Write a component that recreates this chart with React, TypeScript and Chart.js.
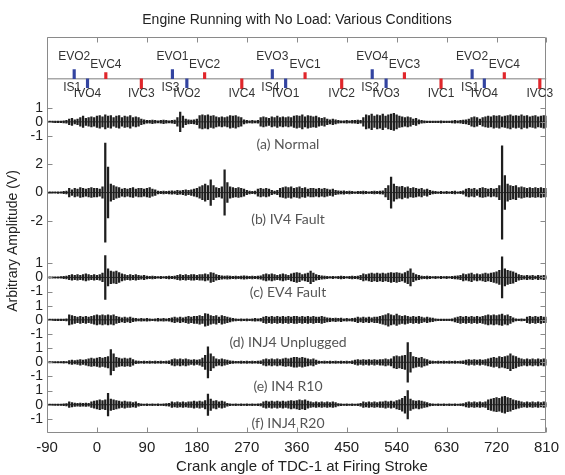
import React, { useEffect, useRef } from "react";
import { Chart, registerables } from "chart.js";

Chart.register(...registerables);

// ---------- data ----------
const TITLE = "Engine Running with No Load: Various Conditions";
const X_TITLE = "Crank angle of TDC-1 at Firing Stroke";
const Y_TITLE = "Arbitrary Amplitude (V)";

const ANGLE_START = -90;
const ANGLE_STEP = 5;
const X_MIN = -90;
const X_MAX = 810;
const X_TICKS = [-90, 0, 90, 180, 270, 360, 450, 540, 630, 720, 810];

const Y_TICK_VALUES = [-1, 0, 1, 2, 3, 4, 5, 6, 7, 8, 9, 10, 13, 15, 17, 19, 20, 21];
const Y_TICK_LABELS = ["-1", "0", "1", "-1", "0", "1", "-1", "0", "1", "-1", "0", "1", "-2", "0", "2", "-1", "0", "1"];

const TRACE_NAMES = ["(a) Normal", "(b) IV4 Fault", "(c) EV4 Fault", "(d) INJ4 Unplugged", "(e) IN4 R10", "(f) INJ4 R20"];
const TRACE_BASE = [20, 15, 9, 6, 3, 0];

// amplitude envelopes (V), one value every 5 deg from -90 to 810
const AMP_A = [
  0.05, 0.05, 0.05, 0.05, 0.06, 0.05, 0.08, 0.1, 0.2, 0.25, 0.15, 0.2, 0.3, 0.4, 0.25, 0.3, 0.35, 0.3,
  0.4, 0.45, 0.35, 0.5, 0.4, 0.45, 0.3, 0.4, 0.45, 0.3, 0.4, 0.35, 0.45, 0.3, 0.35, 0.3, 0.2, 0.15,
  0.1, 0.1, 0.12, 0.1, 0.08, 0.1, 0.12, 0.1, 0.08, 0.1, 0.12, 0.3, 0.7, 0.4, 0.2, 0.15, 0.12, 0.15,
  0.2, 0.45, 0.5, 0.45, 0.5, 0.4, 0.45, 0.35, 0.3, 0.35, 0.3, 0.35, 0.45, 0.4, 0.45, 0.35, 0.3, 0.15,
  0.1, 0.08, 0.1, 0.08, 0.1, 0.3, 0.35, 0.3, 0.25, 0.35, 0.3, 0.4, 0.3, 0.35, 0.3, 0.35, 0.3, 0.4,
  0.45, 0.4, 0.5, 0.35, 0.45, 0.4, 0.35, 0.4, 0.3, 0.25, 0.3, 0.2, 0.15, 0.2, 0.15, 0.1, 0.08, 0.08,
  0.1, 0.08, 0.1, 0.1, 0.12, 0.1, 0.3, 0.5, 0.45, 0.55, 0.4, 0.5, 0.45, 0.55, 0.4, 0.5, 0.55, 0.6,
  0.5, 0.4, 0.35, 0.3, 0.35, 0.3, 0.2, 0.25, 0.15, 0.1, 0.08, 0.06, 0.05, 0.06, 0.05, 0.06, 0.08, 0.06,
  0.05, 0.06, 0.08, 0.1, 0.08, 0.1, 0.12, 0.15, 0.2, 0.3, 0.35, 0.3, 0.2, 0.3, 0.35, 0.4, 0.35, 0.45,
  0.4, 0.45, 0.35, 0.4, 0.45, 0.5, 0.4, 0.45, 0.4, 0.5, 0.4, 0.45, 0.35, 0.4, 0.45, 0.35, 0.4, 0.45,
  0.4,
];
const AMP_B = [
  0.05, 0.05, 0.05, 0.05, 0.06, 0.05, 0.08, 0.1, 0.3, 0.2, 0.3, 0.25, 0.35, 0.3, 0.25, 0.3, 0.35, 0.3,
  0.3, 0.25, 0.4, 3.5, 1.8, 0.6, 0.5, 0.4, 0.35, 0.25, 0.3, 0.25, 0.3, 0.35, 0.25, 0.3, 0.3, 0.25,
  0.3, 0.35, 0.25, 0.2, 0.1, 0.08, 0.1, 0.08, 0.1, 0.12, 0.1, 0.15, 0.12, 0.15, 0.2, 0.15, 0.2, 0.25,
  0.3, 0.4, 0.5, 0.6, 0.5, 0.9, 0.5, 0.35, 0.3, 0.4, 1.6, 0.7, 0.4, 0.35, 0.3, 0.35, 0.3, 0.25,
  0.15, 0.1, 0.08, 0.1, 0.25, 0.3, 0.25, 0.3, 0.25, 0.15, 0.1, 0.15, 0.3, 0.35, 0.4, 0.35, 0.4, 0.3,
  0.35, 0.4, 0.3, 0.35, 0.25, 0.3, 0.3, 0.25, 0.3, 0.25, 0.3, 0.25, 0.2, 0.25, 0.15, 0.12, 0.1, 0.12,
  0.08, 0.1, 0.08, 0.06, 0.08, 0.08, 0.1, 0.08, 0.06, 0.08, 0.1, 0.08, 0.1, 0.12, 0.3, 0.5, 1.1, 0.6,
  0.45, 0.4, 0.45, 0.35, 0.4, 0.3, 0.35, 0.3, 0.25, 0.3, 0.2, 0.25, 0.15, 0.1, 0.08, 0.06, 0.08, 0.06,
  0.08, 0.06, 0.08, 0.1, 0.06, 0.08, 0.12, 0.25, 0.3, 0.25, 0.3, 0.2, 0.3, 0.35, 0.3, 0.25, 0.3, 0.25,
  0.3, 0.5, 3.3, 1.2, 0.6, 0.5, 0.45, 0.5, 0.35, 0.4, 0.35, 0.3, 0.35, 0.3, 0.35, 0.3, 0.35, 0.3,
  0.3,
];
const AMP_C = [
  0.05, 0.05, 0.05, 0.05, 0.05, 0.06, 0.08, 0.1, 0.15, 0.2, 0.15, 0.2, 0.15, 0.2, 0.25, 0.2, 0.15, 0.2,
  0.15, 0.2, 0.3, 1.55, 0.6, 0.45, 0.4, 0.45, 0.35, 0.25, 0.2, 0.15, 0.2, 0.15, 0.2, 0.15, 0.12, 0.15,
  0.1, 0.08, 0.1, 0.08, 0.06, 0.08, 0.06, 0.08, 0.1, 0.08, 0.1, 0.15, 0.2, 0.15, 0.2, 0.15, 0.2, 0.2,
  0.15, 0.2, 0.2, 0.25, 0.2, 0.35, 0.3, 0.2, 0.15, 0.12, 0.1, 0.12, 0.1, 0.08, 0.1, 0.08, 0.1, 0.12,
  0.1, 0.08, 0.1, 0.08, 0.1, 0.12, 0.2, 0.25, 0.2, 0.25, 0.2, 0.15, 0.2, 0.25, 0.2, 0.15, 0.25, 0.3,
  0.35, 0.3, 0.2, 0.25, 0.3, 0.45, 0.3, 0.2, 0.15, 0.12, 0.1, 0.08, 0.06, 0.08, 0.06, 0.08, 0.1, 0.08,
  0.06, 0.08, 0.1, 0.08, 0.1, 0.15, 0.25, 0.2, 0.25, 0.3, 0.25, 0.3, 0.25, 0.3, 0.25, 0.3, 0.35, 0.3,
  0.35, 0.3, 0.25, 0.35, 0.45, 0.6, 0.3, 0.2, 0.15, 0.1, 0.08, 0.1, 0.08, 0.06, 0.08, 0.06, 0.08, 0.06,
  0.08, 0.06, 0.08, 0.1, 0.12, 0.15, 0.25, 0.2, 0.25, 0.3, 0.2, 0.25, 0.2, 0.25, 0.3, 0.25, 0.3, 0.35,
  0.4, 0.5, 1.45, 0.6, 0.5, 0.45, 0.4, 0.3, 0.2, 0.15, 0.12, 0.15, 0.12, 0.15, 0.1, 0.15, 0.12, 0.15,
  0.12,
];
const AMP_D = [
  0.05, 0.05, 0.05, 0.05, 0.05, 0.05, 0.06, 0.08, 0.35, 0.3, 0.25, 0.2, 0.25, 0.2, 0.25, 0.2, 0.25, 0.3,
  0.35, 0.3, 0.35, 0.3, 0.35, 0.3, 0.35, 0.25, 0.2, 0.15, 0.2, 0.15, 0.2, 0.12, 0.1, 0.08, 0.1, 0.08,
  0.1, 0.08, 0.06, 0.08, 0.1, 0.08, 0.1, 0.08, 0.1, 0.15, 0.2, 0.15, 0.2, 0.15, 0.2, 0.25, 0.2, 0.25,
  0.25, 0.3, 0.25, 0.45, 0.4, 0.3, 0.25, 0.3, 0.2, 0.3, 0.25, 0.2, 0.15, 0.1, 0.08, 0.06, 0.08, 0.06,
  0.08, 0.06, 0.08, 0.1, 0.08, 0.1, 0.2, 0.25, 0.2, 0.25, 0.2, 0.25, 0.2, 0.25, 0.2, 0.25, 0.2, 0.25,
  0.25, 0.2, 0.25, 0.2, 0.25, 0.2, 0.25, 0.2, 0.2, 0.25, 0.2, 0.15, 0.12, 0.1, 0.12, 0.1, 0.12, 0.08,
  0.1, 0.08, 0.1, 0.12, 0.2, 0.15, 0.2, 0.15, 0.2, 0.15, 0.2, 0.2, 0.25, 0.3, 0.35, 0.45, 0.35, 0.3,
  0.4, 0.3, 0.25, 0.3, 0.25, 0.2, 0.25, 0.2, 0.25, 0.2, 0.15, 0.2, 0.15, 0.12, 0.08, 0.06, 0.05, 0.06,
  0.05, 0.06, 0.08, 0.15, 0.2, 0.25, 0.2, 0.25, 0.2, 0.25, 0.2, 0.25, 0.2, 0.25, 0.3, 0.35, 0.3, 0.35,
  0.3, 0.35, 0.4, 0.3, 0.35, 0.25, 0.15, 0.08, 0.06, 0.08, 0.06, 0.2, 0.25, 0.2, 0.25, 0.2, 0.25, 0.2,
  0.2,
];
const AMP_E = [
  0.05, 0.05, 0.05, 0.05, 0.05, 0.05, 0.06, 0.05, 0.12, 0.15, 0.12, 0.15, 0.2, 0.15, 0.2, 0.25, 0.3, 0.25,
  0.3, 0.35, 0.3, 0.35, 0.4, 0.9, 0.6, 0.35, 0.3, 0.25, 0.3, 0.25, 0.3, 0.2, 0.1, 0.08, 0.06, 0.08,
  0.06, 0.08, 0.06, 0.08, 0.06, 0.08, 0.06, 0.08, 0.1, 0.2, 0.25, 0.2, 0.25, 0.2, 0.25, 0.2, 0.15, 0.2,
  0.15, 0.2, 0.3, 0.5, 1.1, 0.6, 0.4, 0.25, 0.2, 0.25, 0.2, 0.15, 0.1, 0.08, 0.06, 0.06, 0.08, 0.06,
  0.08, 0.06, 0.08, 0.06, 0.08, 0.1, 0.2, 0.25, 0.2, 0.25, 0.2, 0.25, 0.2, 0.25, 0.3, 0.25, 0.3, 0.35,
  0.35, 0.3, 0.35, 0.3, 0.25, 0.2, 0.25, 0.15, 0.08, 0.06, 0.08, 0.06, 0.08, 0.06, 0.08, 0.06, 0.08, 0.06,
  0.08, 0.06, 0.1, 0.15, 0.2, 0.15, 0.2, 0.15, 0.2, 0.15, 0.2, 0.15, 0.2, 0.2, 0.25, 0.2, 0.25, 0.4,
  0.45, 0.4, 0.45, 0.5, 1.4, 0.7, 0.4, 0.35, 0.3, 0.35, 0.25, 0.2, 0.1, 0.08, 0.06, 0.08, 0.06, 0.08,
  0.06, 0.08, 0.06, 0.08, 0.06, 0.08, 0.1, 0.15, 0.2, 0.15, 0.2, 0.15, 0.2, 0.15, 0.2, 0.25, 0.3, 0.35,
  0.3, 0.4, 0.35, 0.4, 0.45, 0.6, 0.45, 0.4, 0.3, 0.25, 0.2, 0.25, 0.2, 0.25, 0.2, 0.25, 0.2, 0.25,
  0.2,
];
const AMP_F = [
  0.05, 0.05, 0.05, 0.05, 0.05, 0.05, 0.06, 0.08, 0.2, 0.15, 0.12, 0.1, 0.12, 0.1, 0.12, 0.1, 0.2, 0.25,
  0.3, 0.35, 0.3, 0.35, 0.8, 0.4, 0.35, 0.3, 0.25, 0.2, 0.25, 0.2, 0.2, 0.15, 0.2, 0.1, 0.06, 0.05,
  0.06, 0.05, 0.06, 0.05, 0.06, 0.05, 0.06, 0.08, 0.1, 0.2, 0.15, 0.2, 0.15, 0.2, 0.15, 0.2, 0.2, 0.25,
  0.2, 0.25, 0.2, 0.3, 0.75, 0.4, 0.25, 0.3, 0.2, 0.25, 0.2, 0.1, 0.06, 0.05, 0.06, 0.05, 0.06, 0.05,
  0.06, 0.05, 0.06, 0.05, 0.06, 0.08, 0.2, 0.25, 0.2, 0.25, 0.2, 0.25, 0.2, 0.25, 0.2, 0.25, 0.3, 0.25,
  0.3, 0.35, 0.3, 0.35, 0.25, 0.2, 0.15, 0.2, 0.15, 0.2, 0.15, 0.2, 0.15, 0.2, 0.15, 0.08, 0.06, 0.05,
  0.06, 0.05, 0.06, 0.05, 0.06, 0.1, 0.2, 0.15, 0.2, 0.15, 0.2, 0.15, 0.2, 0.2, 0.25, 0.2, 0.25, 0.2,
  0.3, 0.35, 0.45, 0.6, 1.0, 0.4, 0.3, 0.25, 0.3, 0.25, 0.2, 0.15, 0.08, 0.06, 0.05, 0.06, 0.05, 0.06,
  0.05, 0.06, 0.05, 0.06, 0.05, 0.06, 0.08, 0.15, 0.2, 0.15, 0.2, 0.15, 0.2, 0.15, 0.2, 0.35, 0.4, 0.45,
  0.5, 0.45, 0.55, 0.6, 0.5, 0.45, 0.35, 0.3, 0.25, 0.2, 0.15, 0.2, 0.15, 0.2, 0.15, 0.2, 0.15, 0.2,
  0.15,
];
const TRACE_AMPS = [AMP_A, AMP_B, AMP_C, AMP_D, AMP_E, AMP_F];

// valve events (crank angle, deg)
const EVENT_LEVEL = 23.05;
const EVO_ANGLES = [-41, 136, 316, 496, 676];
const EVO_LABELS = ["EVO2", "EVO1", "EVO3", "EVO4", "EVO2"];
const IS_LABELS = ["IS1", "IS3", "IS4", "IS2", "IS1"];
const IVO_ANGLES = [-17, 162, 340, 521, 698];
const IVO_LABELS = ["IVO4", "IVO2", "IVO1", "IVO3", "IVO4"];
const EVC_ANGLES = [16, 194, 375, 554, 734];
const EVC_LABELS = ["EVC4", "EVC2", "EVC1", "EVC3", "EVC4"];
const IVC_ANGLES = [80, 261, 441, 620, 798];
const IVC_LABELS = ["IVC3", "IVC4", "IVC2", "IVC1", "IVC3"];

// ---------- styling ----------
const SANS = '"Liberation Sans", Arial, sans-serif';
const LABEL_FONT = 'Lato, "Open Sans", sans-serif';
const AXIS_COLOR = "#8a8a8a";
const BLUE = "#3344a0";
const RED = "#e0262b";
const TRACE_LABEL_DY = [23, 26.5, 15.5, 23, 24.5, 18.5];

const overlayPlugin = {
  id: "overlay",
  afterDraw(chart: any) {
    const { ctx, chartArea: ca } = chart;
    const xs = chart.scales.x;
    const ys = chart.scales.y;
    ctx.save();

    // frame
    ctx.strokeStyle = AXIS_COLOR;
    ctx.lineWidth = 1;
    const L = Math.round(ca.left) + 0.5;
    const R = Math.round(ca.right) - 0.5;
    const T = Math.round(ca.top) + 0.5;
    const B = Math.round(ca.bottom) - 0.5;
    ctx.beginPath();
    ctx.rect(L, T, R - L, B - T);
    ctx.stroke();

    // inward ticks
    ctx.beginPath();
    X_TICKS.forEach((v) => {
      const px = Math.round(xs.getPixelForValue(v)) + 0.5;
      ctx.moveTo(px, B);
      ctx.lineTo(px, B - 5);
      ctx.moveTo(px, T);
      ctx.lineTo(px, T + 5);
    });
    Y_TICK_VALUES.forEach((v) => {
      const py = Math.round(ys.getPixelForValue(v)) + 0.5;
      ctx.moveTo(L, py);
      ctx.lineTo(L + 5, py);
      ctx.moveTo(R, py);
      ctx.lineTo(R - 5, py);
    });
    ctx.stroke();

    // titles
    ctx.fillStyle = "#222";
    ctx.textAlign = "center";
    ctx.textBaseline = "middle";
    ctx.font = "14px " + SANS;
    ctx.fillText(TITLE, 297, 20);
    ctx.font = "15px " + SANS;
    ctx.fillText(X_TITLE, 302, 467);
    ctx.save();
    ctx.translate(13, 241);
    ctx.rotate(-Math.PI / 2);
    ctx.font = "14px " + SANS;
    ctx.fillText(Y_TITLE, 0, 0);
    ctx.restore();

    // valve event labels
    const ey = ys.getPixelForValue(EVENT_LEVEL);
    ctx.font = "12px " + SANS;
    ctx.fillStyle = "#333";
    EVO_ANGLES.forEach((a, i) => {
      const px = xs.getPixelForValue(a);
      ctx.fillText(EVO_LABELS[i], px, ey - 22);
      ctx.fillText(IS_LABELS[i], px - 2, ey + 9);
    });
    EVC_ANGLES.forEach((a, i) => {
      ctx.fillText(EVC_LABELS[i], xs.getPixelForValue(a), ey - 14);
    });
    IVO_ANGLES.forEach((a, i) => {
      ctx.fillText(IVO_LABELS[i], xs.getPixelForValue(a), ey + 15);
    });
    IVC_ANGLES.forEach((a, i) => {
      ctx.fillText(IVC_LABELS[i], xs.getPixelForValue(a), ey + 15);
    });

    // trace labels
    ctx.font = "14px " + LABEL_FONT;
    ctx.fillStyle = "#555";
    TRACE_NAMES.forEach((name, i) => {
      const py = ys.getPixelForValue(TRACE_BASE[i]) + TRACE_LABEL_DY[i];
      ctx.fillText(name, 288, py);
    });

    ctx.restore();
  },
};

export default function App() {
  const canvasRef = useRef<HTMLCanvasElement | null>(null);

  useEffect(() => {
    const canvas = canvasRef.current;
    if (!canvas) return;

    const baseLines = TRACE_BASE.map((b, i) => ({
      type: "line" as const,
      label: TRACE_NAMES[i] + " base",
      data: [
        { x: X_MIN, y: b },
        { x: X_MAX, y: b },
      ],
      borderColor: "#3a3a3a",
      borderWidth: 1,
      pointRadius: 0,
      order: 3,
    }));

    const traceSets = TRACE_AMPS.map((amps, i) => ({
      type: "bar" as const,
      label: TRACE_NAMES[i],
      data: amps.map((a, k) => ({
        x: ANGLE_START + k * ANGLE_STEP,
        y: [TRACE_BASE[i] - a, TRACE_BASE[i] + a],
      })),
      backgroundColor: "#1e1e1e",
      barThickness: 1.6,
      grouped: false,
      order: 2,
    }));

    const tick = (angles: number[], lo: number, hi: number, color: string, label: string) => ({
      type: "bar" as const,
      label,
      data: angles.map((a) => ({ x: a, y: [EVENT_LEVEL + lo, EVENT_LEVEL + hi] })),
      backgroundColor: color,
      barThickness: 2.5,
      grouped: false,
      order: 0,
    });

    const chart = new Chart(canvas, {
      type: "bar",
      data: {
        datasets: [
          {
            type: "line" as const,
            label: "events",
            data: [
              { x: X_MIN, y: EVENT_LEVEL },
              { x: X_MAX, y: EVENT_LEVEL },
            ],
            borderColor: "#a8a8a8",
            borderWidth: 1.6,
            pointRadius: 0,
            order: 1,
          } as any,
          tick(EVO_ANGLES, 0, 0.64, BLUE, "EVO"),
          tick(IVO_ANGLES, -0.64, 0, BLUE, "IVO"),
          tick(EVC_ANGLES, 0, 0.43, RED, "EVC"),
          tick(IVC_ANGLES, -0.7, 0, RED, "IVC"),
          ...traceSets,
          ...baseLines,
        ],
      },
      options: {
        responsive: false,
        animation: false,
        devicePixelRatio: 1,
        layout: { padding: { top: 37, right: 11, left: 0, bottom: 0 } },
        plugins: {
          legend: { display: false },
          tooltip: { enabled: false },
          title: { display: false },
        },
        scales: {
          x: {
            type: "linear",
            min: X_MIN,
            max: X_MAX,
            offset: false,
            grid: { display: false, drawTicks: false },
            border: { display: false },
            afterBuildTicks: (s: any) => {
              s.ticks = X_TICKS.map((v) => ({ value: v }));
            },
            afterFit: (s: any) => {
              s.height = 42;
            },
            ticks: {
              autoSkip: false,
              maxRotation: 0,
              padding: 6,
              color: "#222",
              font: { family: SANS, size: 15 },
              callback: (v: any) => String(v),
            },
          },
          y: {
            type: "linear",
            min: -2,
            max: 26,
            grid: { display: false, drawTicks: false },
            border: { display: false },
            afterBuildTicks: (s: any) => {
              s.ticks = Y_TICK_VALUES.map((v) => ({ value: v }));
            },
            afterFit: (s: any) => {
              s.width = 47;
            },
            ticks: {
              autoSkip: false,
              padding: 4,
              color: "#222",
              font: { family: SANS, size: 14 },
              callback: (_v: any, i: number) => Y_TICK_LABELS[i],
            },
          },
        },
      } as any,
      plugins: [overlayPlugin],
    });

    return () => chart.destroy();
  }, []);

  return (
    <div style={{ position: "absolute", left: 0, top: 0, width: 565, height: 475, background: "#fff" }}>
      <canvas ref={canvasRef} width={565} height={475} />
    </div>
  );
}
